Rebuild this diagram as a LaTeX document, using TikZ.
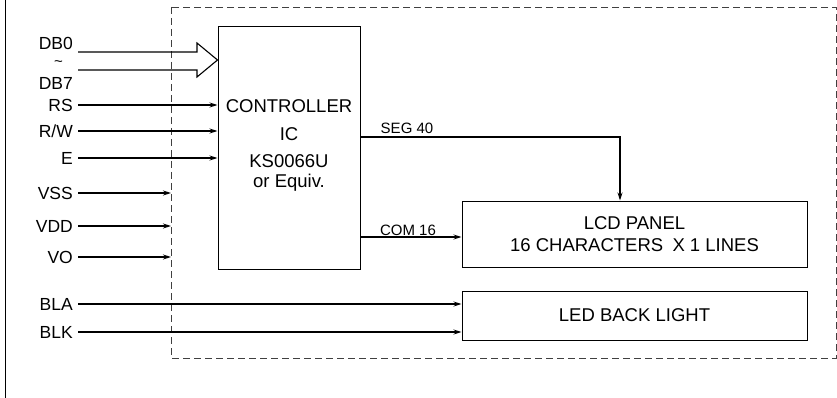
\documentclass[tikz,border=0pt]{standalone}
\usepackage{fontspec}
\setmainfont{Liberation Sans}
\usetikzlibrary{arrows.meta}
\begin{document}
\begin{tikzpicture}[x=1pt,y=-1pt,
  box/.style={draw,line width=1pt,inner sep=0pt,font=\fontsize{18.5}{21}\selectfont,align=center},
  pin/.style={anchor=east,inner sep=0pt,font=\fontsize{17.5}{19}\selectfont},
  sig/.style={font=\fontsize{15}{17}\selectfont,inner sep=0pt},
  wire/.style={line width=1.1pt,-{Stealth[length=8pt,width=5pt]}},
  frame/.style={dashed,line width=0.9pt,dash pattern=on 7pt off 4pt,draw=black!75}]
\useasboundingbox (0,0) rectangle (837,398);
\draw[line width=1pt] (5,0) -- (5,398);
\draw[frame] (171,7) rectangle (836,358);
\coordinate (fl) at (171,0);
% blocks
\node[box,minimum width=142pt,minimum height=242pt] (ctrl) at (289,148) {};
\node[align=center,font=\fontsize{18.5}{20}\selectfont,inner sep=0pt] (ctrltxt) at (289,145)
  {CONTROLLER\\[8pt]IC\\[7pt]KS0066U\\or Equiv.};
\node[box,minimum width=345pt,minimum height=66pt] (lcd) at (634.5,234)
  {LCD PANEL\\[1pt]16 CHARACTERS\enspace X 1 LINES};
\node[box,minimum width=345pt,minimum height=49pt] (led) at (634.5,315.5) {LED BACK LIGHT};
% pin labels
\node[pin] (db0) at (73,43) {DB0};
\node[pin,font=\fontsize{15}{15}\selectfont] (tl) at (63,64) {\textasciitilde};
\node[pin] (db7) at (73,83) {DB7};
\node[pin] (rs) at (73,105) {RS};
\node[pin] (rw) at (73,131) {R/W};
\node[pin] (e) at (73,158) {E};
\node[pin] (vss) at (73,193) {VSS};
\node[pin] (vdd) at (73,226) {VDD};
\node[pin] (vo) at (73,257) {VO};
\node[pin] (bla) at (73,304) {BLA};
\node[pin] (blk) at (73,332) {BLK};
% bus arrow
\coordinate (tip) at (ctrl.west |- 0,60);
\draw[line width=1.1pt,line join=miter] (78,52) -- (197,52) -- (197,43) -- (tip) -- (197,77) -- (197,70) -- (78,70);
% wires
\foreach \p in {rs,rw,e}
  \draw[wire] ([xshift=5pt]\p.east) -- (ctrl.west |- \p.east);
\foreach \p in {vss,vdd,vo}
  \draw[wire] ([xshift=5pt]\p.east) -- (fl |- \p.east);
\foreach \p in {bla,blk}
  \draw[wire] ([xshift=5pt]\p.east) -- (led.west |- \p.east);
\coordinate (s1) at (ctrl.east |- 0,137);
\coordinate (s2) at (620,137);
\draw[wire] (s1) -- (s2) -- (s2 |- lcd.north);
\node[sig] (seg) at (407,128) {SEG 40};
\coordinate (c1) at (ctrl.east |- 0,237);
\draw[wire] (c1) -- (lcd.west |- c1);
\node[sig] (com) at (408,230) {COM 16};
\end{tikzpicture}
\end{document}
